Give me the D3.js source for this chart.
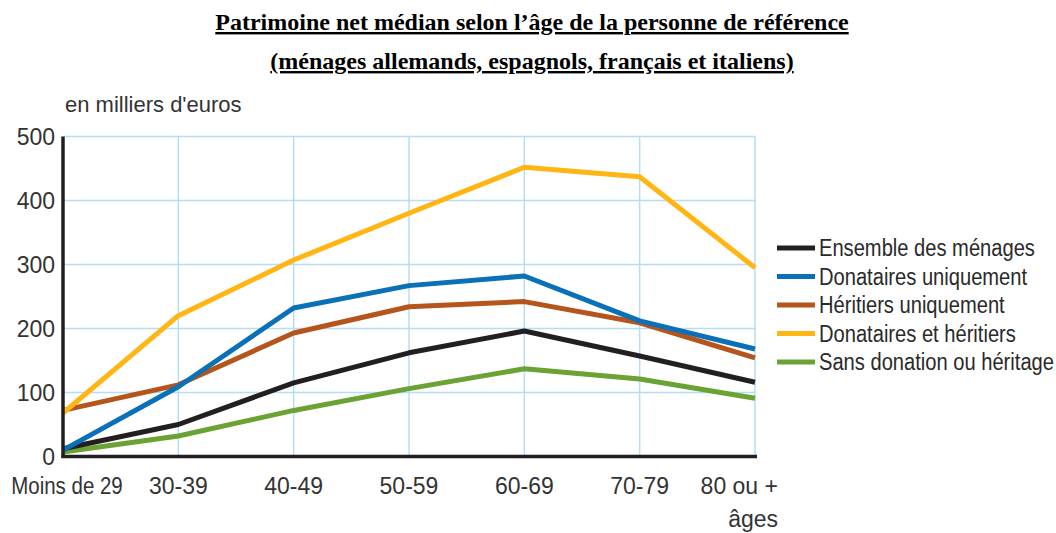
<!DOCTYPE html>
<html><head><meta charset="utf-8">
<script src="https://cdn.jsdelivr.net/npm/d3@7"></script>
<style>
body{margin:0;background:#fff;}
svg{display:block;}
</style></head>
<body>
<svg id="c" width="1056" height="533"></svg>
<script>
const categories = ["Moins de 29","30-39","40-49","50-59","60-69","70-79","80 ou + âges"];
const seriesNames = ["Ensemble des ménages","Donataires uniquement","Héritiers uniquement","Donataires et héritiers","Sans donation ou héritage"];
const ensemble = [12,50,115,162,196,157,116];
const donataires = [10,109,232,267,282,212,168];
const heritiers = [72,112,193,234,242,209,154];
const donHer = [68,220,307,380,452,437,295];
const sans = [7,32,72,106,137,121,91];
const yTicks = [0,100,200,300,400,500];
const colors = ["#231f20","#0a70b8","#b5541b","#ffb614","#6aa334"];

const series = [ensemble, donataires, heritiers, donHer, sans];
const svg = d3.select("#c");
const font = "'Liberation Sans',Arial,sans-serif";
const x = d3.scalePoint().domain(categories).range([63,755]);
const y = d3.scaleLinear().domain([0,500]).range([456.5,136.5]);

// title
const t = svg.append("g").attr("font-family","'Liberation Serif','Times New Roman',serif")
  .attr("font-weight","bold").attr("font-size",24).attr("text-anchor","middle").attr("fill","#000");
t.append("text").attr("x",532).attr("y",30).attr("text-decoration","underline").text("Patrimoine net médian selon l’âge de la personne de référence");
t.append("text").attr("x",532).attr("y",69).attr("text-decoration","underline").text("(ménages allemands, espagnols, français et italiens)");

// unit label
svg.append("text").attr("x",65).attr("y",112).attr("font-family",font).attr("font-size",22).attr("fill","#333").text("en milliers d'euros");

// grid
const grid = svg.append("g").attr("stroke","#b5def5").attr("stroke-width",1.5);
yTicks.filter(v=>v>0).forEach(v=>{
  grid.append("line").attr("x1",x.range()[0]).attr("x2",x.range()[1]).attr("y1",y(v)).attr("y2",y(v));
});
categories.slice(1).forEach(c=>{
  grid.append("line").attr("x1",x(c)).attr("x2",x(c)).attr("y1",y(500)).attr("y2",y(0));
});

// y axis
const ya = svg.append("g").attr("transform",`translate(${x.range()[0]},0)`)
  .call(d3.axisLeft(y).tickValues(yTicks).tickSize(0).tickPadding(8));
ya.select(".domain").remove();
ya.selectAll("text").attr("font-family",font).attr("font-size",23).attr("fill","#333").attr("dy","0.35em");

// x axis labels
const xa = svg.append("g").attr("font-family",font).attr("font-size",23).attr("fill","#333");
categories.forEach((c,i)=>{
  if(i===categories.length-1){
    xa.append("text").attr("x",x(c)+23).attr("y",494).attr("text-anchor","end").text("80 ou +");
    xa.append("text").attr("x",x(c)+23).attr("y",527).attr("text-anchor","end").text("âges");
  } else if(i===0){
    xa.append("text").attr("transform",`translate(${x(c)+4},494) scale(0.89,1)`).attr("text-anchor","middle").text(c);
  } else {
    xa.append("text").attr("x",x(c)).attr("y",494).attr("text-anchor","middle").text(c);
  }
});

// lines
const line = d3.line().x((d,i)=>x(categories[i])).y(d=>y(d));
const order = [4,0,2,1,3];
order.forEach(k=>{
  svg.append("path").datum(series[k]).attr("d",line).attr("fill","none")
    .attr("stroke",colors[k]).attr("stroke-width",5).attr("stroke-linejoin","round");
});

// axes lines
svg.append("line").attr("x1",x.range()[0]).attr("x2",x.range()[0]).attr("y1",y(500)).attr("y2",y(0)+1.5).attr("stroke","#231f20").attr("stroke-width",3.5);
svg.append("line").attr("x1",x.range()[0]-1.5).attr("x2",x.range()[1]+2).attr("y1",y(0)).attr("y2",y(0)).attr("stroke","#231f20").attr("stroke-width",3.5);

// legend
const lg = svg.append("g");
seriesNames.forEach((n,i)=>{
  const yy = 248 + i*28.5;
  lg.append("line").attr("x1",777).attr("x2",815).attr("y1",yy).attr("y2",yy).attr("stroke",colors[i]).attr("stroke-width",5);
  lg.append("text").attr("transform",`translate(819,${yy}) scale(0.875,1)`).attr("dy","0.35em")
    .attr("font-family",font).attr("font-size",23).attr("fill","#2a2a2a").text(n);
});
</script>
</body></html>
